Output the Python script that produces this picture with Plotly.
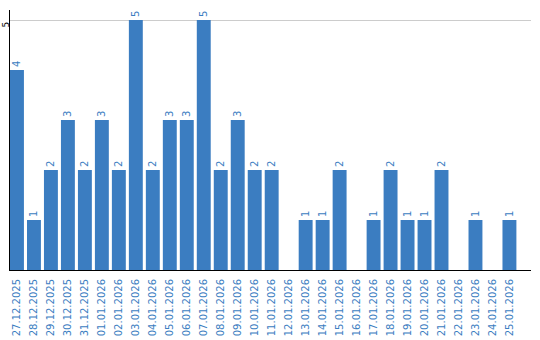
import plotly.graph_objects as go

dates = ["27.12.2025", "28.12.2025", "29.12.2025", "30.12.2025", "31.12.2025",
         "01.01.2026", "02.01.2026", "03.01.2026", "04.01.2026", "05.01.2026",
         "06.01.2026", "07.01.2026", "08.01.2026", "09.01.2026", "10.01.2026",
         "11.01.2026", "12.01.2026", "13.01.2026", "14.01.2026", "15.01.2026",
         "16.01.2026", "17.01.2026", "18.01.2026", "19.01.2026", "20.01.2026",
         "21.01.2026", "22.01.2026", "23.01.2026", "24.01.2026", "25.01.2026"]
values = [4, 1, 2, 3, 2, 3, 2, 5, 2, 3, 3, 5, 2, 3, 2, 2, 0, 1, 1, 2, 0, 1, 2, 1, 1, 2, 0, 1, 0, 1]
y_ticks = [5]

blue = "#3b7dc1"
labels = [str(v) if v > 0 else "" for v in values]

fig = go.Figure(go.Bar(
    x=dates, y=values, marker_color=blue, marker_line_width=0,
    text=labels, textposition="outside", textangle=-90,
    textfont=dict(family="DejaVu Sans", size=10, color=blue),
    cliponaxis=False,
))

fig.update_layout(
    width=540, height=340,
    margin=dict(l=10, r=9, t=10, b=70),
    paper_bgcolor="white", plot_bgcolor="white",
    bargap=0.18, showlegend=False,
    font=dict(family="DejaVu Sans", size=10, color=blue),
)
fig.update_xaxes(
    type="category", range=[-0.41, 30.27], showline=True, linecolor="black", linewidth=1,
    tickangle=-90, ticks="", showgrid=False, automargin=False, ticklabelstandoff=4,
    tickfont=dict(family="DejaVu Sans", size=10, color=blue),
)
fig.update_yaxes(
    range=[0, 5.2], tickvals=y_ticks, showline=True, linecolor="black", linewidth=1,
    gridcolor="#cccccc", zeroline=False, tickangle=-90, ticks="", automargin=False,
    tickfont=dict(family="DejaVu Sans", size=9, color="black"),
    ticklabelstandoff=-4, ticklabelshift=6,
)

fig.write_html("out.html")
